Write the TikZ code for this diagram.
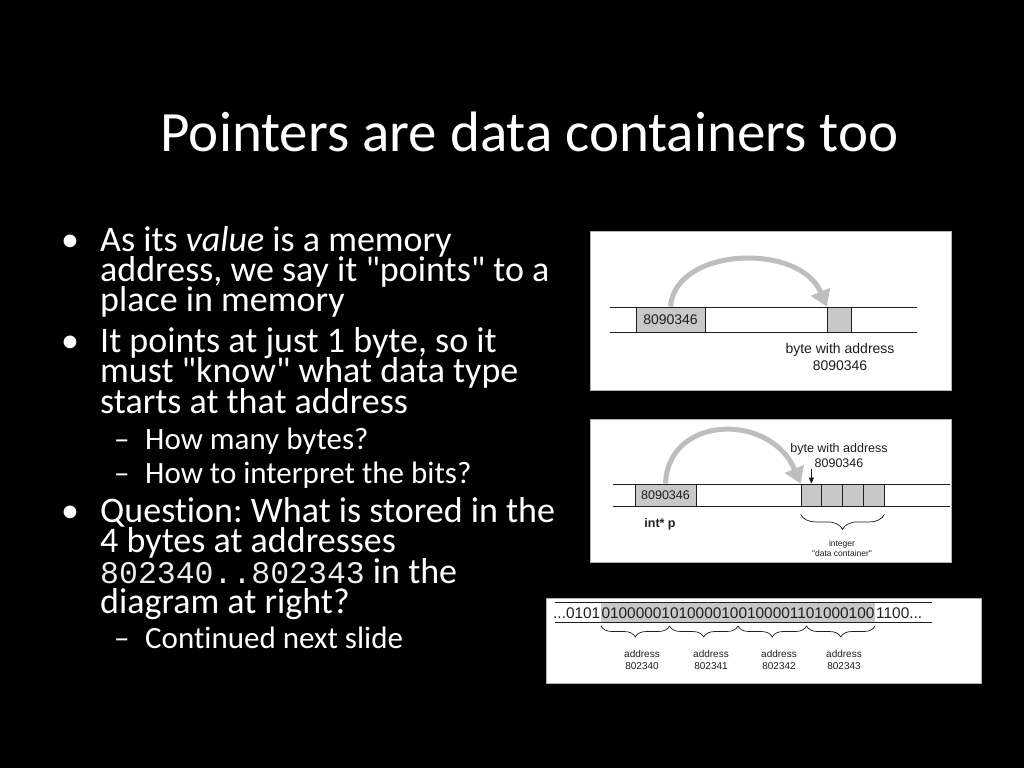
\documentclass[tikz,border=0pt]{standalone}
\usepackage{fontspec}
\setmainfont{Carlito}[Ligatures={TeXOff,NoCommon}]
\setmonofont{Liberation Mono}[Ligatures=TeXOff]
\newfontfamily\diagfont{Liberation Sans}[Ligatures=TeXOff]
\usetikzlibrary{arrows.meta,decorations.pathreplacing}
\definecolor{cellgray}{RGB}{200,200,200}
\definecolor{arrowgray}{RGB}{190,190,190}
\definecolor{ink}{RGB}{30,30,30}
\definecolor{monowhite}{RGB}{235,235,235}
\pgfdeclarelayer{bg}
\pgfdeclarelayer{arr}
\pgfsetlayers{bg,arr,main}
\frenchspacing
\begin{document}
\begin{tikzpicture}[x=1pt,y=-1pt,
  tl/.style={anchor=base west,inner sep=0,text=white,font=\fontsize{36}{40}\selectfont},
  sl/.style={anchor=base west,inner sep=0,text=white,font=\fontsize{31}{36}\selectfont},
  ttl/.style={anchor=base,inner sep=0,text=white,font=\fontsize{57}{68}\selectfont},
  panel/.style={fill=white,draw=gray!60,line width=0.8pt},
  memline/.style={draw=ink,line width=0.8pt},
  cell/.style={draw=ink,fill=cellgray,line width=0.8pt,inner sep=0,text=ink},
  bigarrow/.style={draw=arrowgray,line width=5pt,-{Triangle[length=16pt,width=20pt]}},
  dtxt/.style={inner sep=0,text=ink,align=center},
  bracestyle/.style={draw=ink,line width=0.7pt,decorate,decoration={brace,mirror,amplitude=#1}}
]
\begin{pgfonlayer}{bg}
\fill[black] (0,0) rectangle (1024,768);
\path[panel] (590,231) rectangle (951,390);
\path[panel] (590,419) rectangle (951,562);
\path[panel] (546,598) rectangle (981,683);
\end{pgfonlayer}
\useasboundingbox (0,0) rectangle (1024,768);

% title
\node[ttl] (title) at (529.5,151) {Pointers are data containers too};

% bullets
\node[tl] (b1) at (61,251) {•};
\node[tl] (l1) at (100,251) {As its \textit{value} is a memory};
\node[tl] (l2) at (100,281.5) {address, we say it "points" to a};
\node[tl] (l3) at (100,311.5) {place in memory};
\node[tl] (b2) at (61,352) {•};
\node[tl] (l4) at (100,352) {It points at just 1 byte, so it};
\node[tl] (l5) at (100,382.5) {must "know" what data type};
\node[tl] (l6) at (100,413) {starts at that address};
\node[sl] (d1) at (114,449) {–};
\node[sl] (s1) at (145,449) {How many bytes?};
\node[sl] (d2) at (114,483) {–};
\node[sl] (s2) at (145,483) {How to interpret the bits?};
\node[tl] (b3) at (61,522) {•};
\node[tl] (l7) at (100,522) {Question: What is stored in the};
\node[tl] (l8) at (100,552) {4 bytes at addresses};
\node[tl] (l9) at (100,583) {{\fontsize{31.5}{34}\selectfont\ttfamily\color{monowhite}802340..802343} in the};
\node[tl] (l10) at (100,613) {diagram at right?};
\node[sl] (d3) at (114,648) {–};
\node[sl] (s3) at (145,648) {Continued next slide};

% panel 1
\draw[memline] (610,307) -- (917,307);
\draw[memline] (610,332) -- (917,332);
\node[cell,minimum width=69pt,minimum height=25pt,font=\diagfont\fontsize{14}{16}\selectfont] (p1) at (670.5,319.5) {8090346};
\node[cell,minimum width=24pt,minimum height=25pt] (t1) at (839,319.5) {};
\node[dtxt,font=\diagfont\fontsize{14}{17}\selectfont] (t1lab) at (840,356.5) {byte with address\\8090346};
\begin{pgfonlayer}{arr}
\draw[bigarrow] (p1.north) .. controls (675,247) and (800,242) .. (t1.north west);
\end{pgfonlayer}

% panel 2
\draw[memline] (613,484) -- (950,484);
\draw[memline] (613,506) -- (950,506);
\node[cell,minimum width=61pt,minimum height=22pt,font=\diagfont\fontsize{12.5}{14}\selectfont] (p2) at (665.5,495) {8090346};
\node[dtxt,font=\diagfont\bfseries\fontsize{12.5}{14}\selectfont] (p2lab) at (660,524) {int* p};
\node[cell,minimum width=20.75pt,minimum height=22pt] (c1) at (811.4,495) {};
\node[cell,minimum width=20.75pt,minimum height=22pt] (c2) at (832.1,495) {};
\node[cell,minimum width=20.75pt,minimum height=22pt] (c3) at (852.9,495) {};
\node[cell,minimum width=20.75pt,minimum height=22pt] (c4) at (873.6,495) {};
\node[dtxt,font=\diagfont\fontsize{12.5}{15}\selectfont] (c1lab) at (839,455.5) {byte with address\\8090346};
\coordinate (dtop) at (811.4,469);
\draw[draw=ink,line width=0.8pt,-{Triangle[length=6pt,width=5pt]}] (dtop) -- (c1.north);
\draw[bracestyle=15pt] ([yshift=-8pt]c1.south west) -- ([yshift=-8pt]c4.south east);
\node[dtxt,font=\diagfont\fontsize{8.5}{10}\selectfont] (intlab) at (842,548.5) {integer\\"data container"};
\begin{pgfonlayer}{arr}
\draw[bigarrow] (p2.north) .. controls (668,415) and (770,412) .. (c1.north west);
\end{pgfonlayer}

% panel 3
\node[fill=cellgray,inner sep=0,minimum width=274pt,minimum height=20pt] (bits) at (738,612) {};
\draw[memline] (555,602) -- (932,602);
\draw[memline] (555,622) -- (932,622);
\node[anchor=base east,inner sep=0,text=ink,font=\diagfont\fontsize{15.4}{17}\selectfont] (lbits) at (600.5,618) {...0101};
\node[anchor=base,inner sep=0,text=ink,font=\diagfont\fontsize{15.4}{17}\selectfont] (mbits) at (738,618) {01000001010000100100001101000100};
\node[anchor=base west,inner sep=0,text=ink,font=\diagfont\fontsize{15.4}{17}\selectfont] (rbits) at (876,618) {1100...};
\coordinate (k0) at (601,626);
\coordinate (k1) at (669.5,626);
\coordinate (k2) at (738,626);
\coordinate (k3) at (806.5,626);
\coordinate (k4) at (875,626);
\draw[bracestyle=11pt] (k0) -- (k1);
\draw[bracestyle=11pt] (k1) -- (k2);
\draw[bracestyle=11pt] (k2) -- (k3);
\draw[bracestyle=11pt] (k3) -- (k4);
\node[dtxt,font=\diagfont\fontsize{10}{12}\selectfont] (a0) at (642,660) {address\\802340};
\node[dtxt,font=\diagfont\fontsize{10}{12}\selectfont] (a1) at (711,660) {address\\802341};
\node[dtxt,font=\diagfont\fontsize{10}{12}\selectfont] (a2) at (779,660) {address\\802342};
\node[dtxt,font=\diagfont\fontsize{10}{12}\selectfont] (a3) at (844,660) {address\\802343};
\end{tikzpicture}
\end{document}
